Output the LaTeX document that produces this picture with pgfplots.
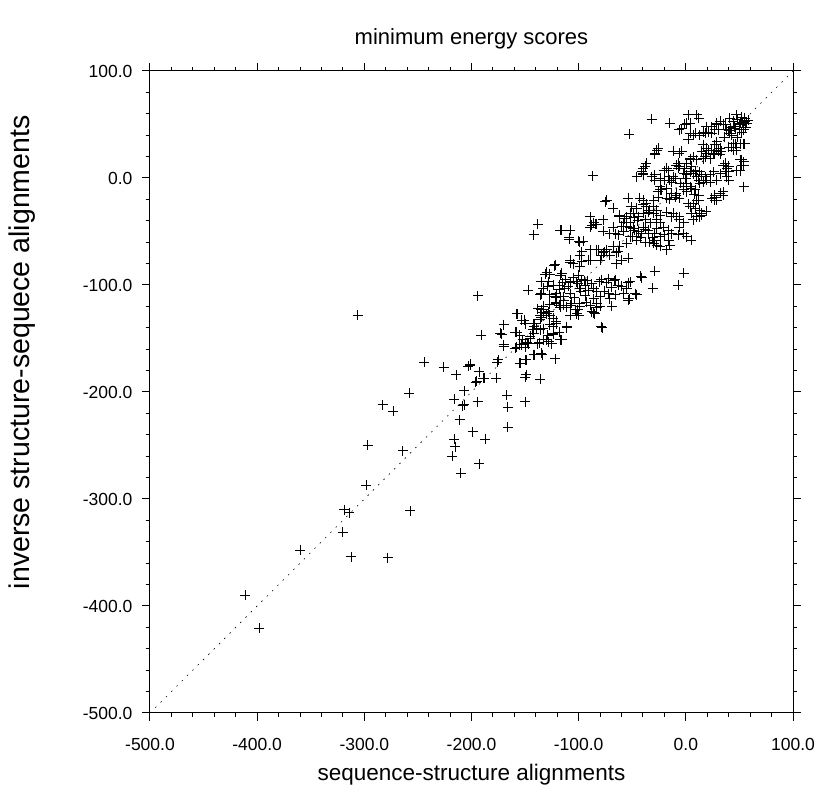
\documentclass[border=0pt]{standalone}
\usepackage{pgfplots}
\pgfplotsset{compat=1.18}
\usepackage{pgfplotstable}
\usepackage{fontspec}
\setmainfont{Liberation Sans}

\pgfplotstableread{
x y
-411 -390
-398 -421
-360 -348
-320 -331
-319 -310
-314 -313
-312 -354
-278 -355
-257 -311
-298 -287
-297 -250
-264 -255
-283 -212
-273 -218
-258 -201
-306 -128
-244 -172
-226 -177
-214 -184
-203 -176
-201 -174
-193 -181
-196 -191
-188 -187
-177 -187
-176 -172
-207 -199
-216 -207
-208 -213
-194 -209
-211 -226
-199 -237
-187 -244
-216 -244
-215 -251
-218 -260
-193 -267
-210 -276
-194 -110
-191 -147
-167 -203
-166 -214
-166 -233
-175 -170
-170 -157
-172 -146
-170 -137
-158 -127
-151 -133
-159 -159
-158 -158
-153 -156
-150 -158
-155 -147
-158 -144
-142 -136
-143 -142
-139 -141
-145 -150
-148 -154
-150 -155
-137 -154
-128 -153
-116 -151
-141 -165
-134 -165
-122 -169
-154 -173
-149 -170
-150 -186
-136 -188
-150 -209
-129 -147
-124 -145
-121 -136
-124 -131
-87 2
-138 -43
-142 -53
-117 -49
-108 -49
-109 -57
-100 -59
-96 -59
-89 -36
-89 -46
-84 -43
-97 -69
-89 -77
-108 -79
-123 -82
-99 -83
-131 -90
-127 -90
-117 -91
-147 -105
-135 -108
-124 -100
-122 -111
-117 -111
-114 -114
-133 -123
-133 -126
-135 -130
-101 -123
-102 -127
-99 -120
-88 -125
-86 -113
-89 -119
-117 -151
-130 -151
-124 -146
-78 -140
-111 -140
-129 -101
-31 -103
-7 -100
-29 -87
-2 -89
-47 -108
-53 -113
-58 -108
-66 -109
-72 -108
-69 -120
-83 -121
-86 -126
-111 -121
-117 -121
-127 -118
-121 -112
-130 -127
-136 -132
-42 -92
-115 -98
-108 -97
-101 -99
-95 -96
-88 -99
-81 -97
-74 -98
-67 -96
-60 -101
-54 -98
-201 -175
-189 -187
-195 -190
-207 -212
-155 -173
-150 -170
-149 -184
-142 -165
-135 -164
-155 -156
-147 -155
-152 -151
-145 -148
-142 -145
-138 -155
-133 -151
-118 -144
-125 -155
-136 -142
-133 -141
-142 -139
-141 -136
-150 -136
-153 -133
-127 -137
-121 -134
-111 -139
-103 -123
-108 -119
-118 -119
-121 -116
-133 -120
-136 -128
-135 -123
-128 -125
-157 -127
-173 -145
-159 -144
-170 -156
-75 -22
-68 -28
-62 -35
-57 -38
-52 -33
-46 -28
-40 -25
-35 -32
-30 -27
-52 -42
-49 -47
-44 -50
-40 -46
-35 -52
-29 -52
-46 -58
-38 -60
-30 -61
-58 -50
-63 -53
-71 -52
-77 -50
-83 -43
-88 -44
-116 -49
-109 -56
-99 -60
-89 -67
-82 -67
-76 -69
-79 -72
-71 -72
-63 -69
-60 -77
-54 -75
-65 -80
-99 -72
-97 -78
-91 -77
-105 -80
-108 -77
-122 -81
-130 -88
-116 -89
-128 -97
-135 -97
-118 -100
-113 -103
-108 -98
-102 -97
-97 -95
-94 -100
-99 -103
-91 -105
-108 -108
-114 -111
-121 -108
-127 -109
-133 -103
-136 -109
-79 -95
-72 -94
-66 -95
-69 -102
-76 -106
-83 -106
-80 -111
-71 -113
-63 -100
-55 -103
-52 -97
-41 -93
-46 -109
-54 -114
-121 -117
-114 -119
-107 -117
-99 -117
-93 -116
-83 -117
-80 -120
-85 -127
-100 -128
-108 -128
-127 -128
-138 -122
-124 -139
-79 -139
40 44
45 48
50 50
55 53
52 57
48 55
44 53
41 56
37 50
42 47
46 46
50 45
56 47
58 54
47 59
53 52
29 51
32 53
12 56
10 59
2 59
4 51
-4 46
-6 45
1 51
-15 51
-32 55
-53 41
2 36
4 42
9 42
13 40
18 42
21 43
24 42
27 45
19 48
24 48
16 31
19 28
24 26
27 31
29 34
32 28
33 25
30 25
26 22
23 18
18 20
15 25
10 17
7 20
4 17
35 12
38 9
37 6
46 32
51 32
54 32
43 29
47 26
44 26
51 17
54 15
52 12
54 -8
47 7
-12 25
-4 25
-9 12
-7 9
-6 11
1 14
4 18
5 11
-2 4
1 3
7 4
10 1
12 -2
13 -5
16 -4
19 -2
18 1
15 3
-26 28
-29 22
-37 14
-38 11
-41 6
-46 1
-40 3
-32 1
-29 -2
-24 -8
-26 -13
-23 -11
-18 -10
-15 -2
-16 1
-20 7
-18 9
-9 -14
-10 -18
-6 -19
1 -13
-2 -8
4 -8
9 -11
12 -16
10 -21
7 -24
2 -24
4 -27
9 -28
13 -30
15 -33
10 -36
7 -39
13 -36
19 -31
24 -19
27 -16
32 -14
35 -16
27 -21
-74 -21
-54 -19
-51 -27
-43 -19
-40 -21
-37 -24
-34 -30
-30 -33
-27 -39
-24 -42
-21 -46
-16 -49
-13 -52
-20 -53
-24 -55
-29 -58
-34 -60
-35 -49
-38 -39
-44 -36
-49 -33
-55 -36
-62 -36
-58 -42
-52 -46
-48 -49
-41 -52
-46 -55
-52 -55
-55 -61
-62 -64
-65 -70
-68 -64
-74 -67
-77 -70
-80 -77
-83 -67
-86 -42
-77 -39
-68 -46
-66 -52
-12 -33
-9 -36
-6 -39
-2 -42
-6 -46
-7 -53
-2 -52
1 -55
5 -58
-16 -58
-15 -63
-18 -67
-24 -64
-27 -63
35 -16
-1 50
7 40
16 43
29 50
51 51
55 56
57 51
54 45
41 42
44 32
55 32
40 29
47 29
29 26
32 22
27 23
21 26
19 23
16 18
-6 23
-29 23
-27 26
52 17
54 12
51 7
37 14
40 11
40 6
32 4
26 6
23 3
29 -2
23 -4
13 6
9 7
4 6
-1 9
-7 14
-16 7
-12 1
-13 -4
-20 -2
-24 0
-29 3
-40 9
-40 4
27 -18
29 -21
35 -13
40 -2
38 1
15 -35
12 -21
1 -5
-2 -11
-9 -16
-13 -14
-18 -19
-24 -11
-26 -18
-30 -21
-37 -27
-40 -33
-27 -30
-24 -35
-18 -32
-13 -36
-6 -36
5 -33
-112 -95
-105 -93
-98 -106
-94 -110
-104 -112
-110 -101
-118 -104
-92 -96
-86 -103
-100 -91
-55 -45
-50 -55
-45 -40
-42 -56
-38 -48
-33 -42
-31 -56
-27 -47
-48 -37
-60 -45
35 50
38 45
43 40
48 38
52 43
36 38
30 45
-10 0
-5 -5
0 0
5 -10
-15 -20
8 -15
}\pts

\begin{document}
\begin{tikzpicture}
\begin{axis}[
  width=643pt, height=642pt, scale only axis,
  xmin=-500, xmax=100, ymin=-500, ymax=100,
  xtick={-500,-400,-300,-200,-100,0,100},
  ytick={-500,-400,-300,-200,-100,0,100},
  xticklabels={-500.0,-400.0,-300.0,-200.0,-100.0,0.0,100.0},
  yticklabels={-500.0,-400.0,-300.0,-200.0,-100.0,0.0,100.0},
  minor tick num=4,
  tick align=outside,
  major tick length=8pt, minor tick length=4pt,
  axis line style={line width=1pt},
  every tick/.style={black, line width=1pt},
  tick label style={font=\fontsize{17.5}{20}\selectfont},
  xticklabel style={yshift=-14pt},
  yticklabel style={xshift=-6pt},
  title={minimum energy scores},
  title style={font=\fontsize{22}{26}\selectfont, at={(axis description cs:0.5,1.0312)}, anchor=base},
  xlabel={sequence-structure alignments},
  ylabel={inverse structure-sequece alignments},
  xlabel style={font=\fontsize{22.5}{26}\selectfont, at={(axis description cs:0.5,-0.1044)}, anchor=base},
  ylabel style={font=\fontsize{28.5}{32}\selectfont, at={(axis description cs:-0.188,0.562)}, anchor=base},
  clip=false,
]
\addplot[black, line width=0.6pt, dash pattern=on 1.5pt off 6pt] coordinates {(-500,-500) (100,100)};
\addplot[only marks, mark=+, mark size=5pt, mark options={line width=0.9pt, black}] table[x=x,y=y] {\pts};
\end{axis}
\pgfresetboundingbox
\path[use as bounding box] ([xshift=-150pt,yshift=-85pt]current axis.south west) rectangle ([xshift=35pt,yshift=71pt]current axis.north east);
\end{tikzpicture}
\end{document}
